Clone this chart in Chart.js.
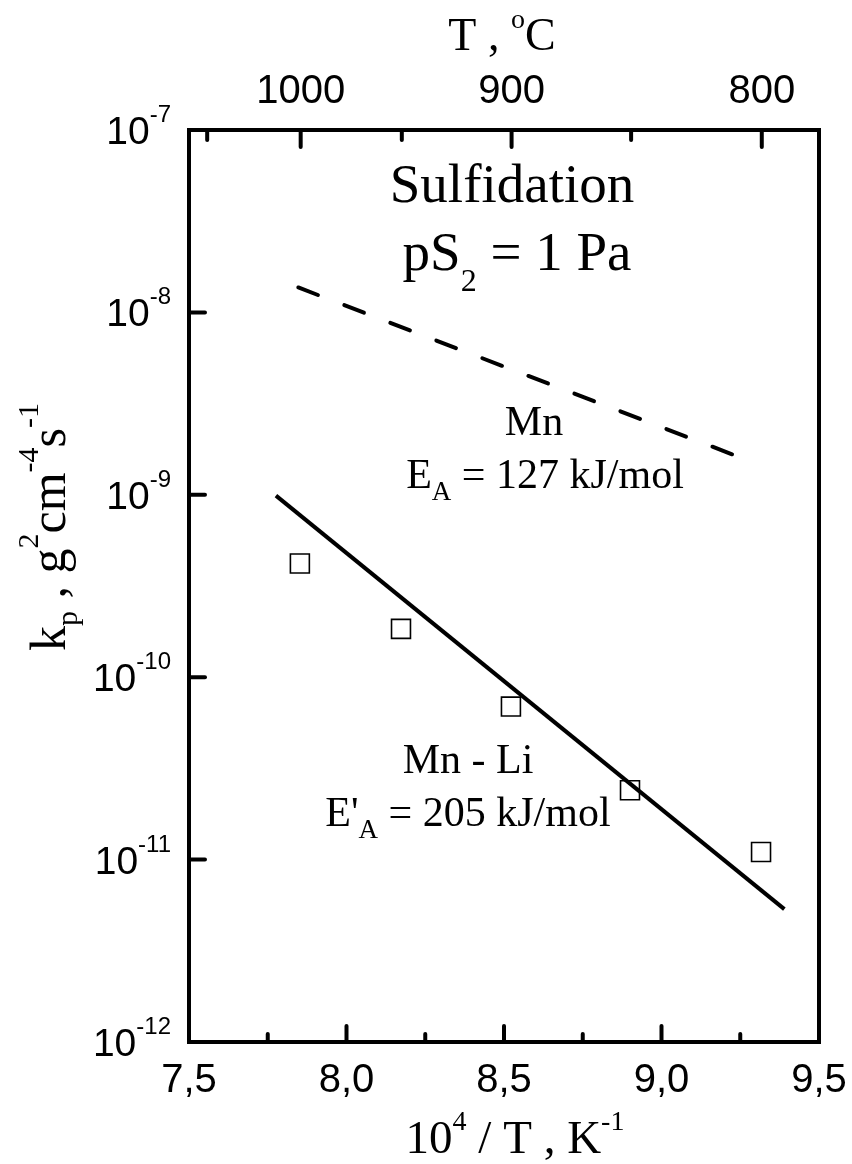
<!DOCTYPE html>
<html>
<head>
<meta charset="utf-8">
<script src="https://cdn.jsdelivr.net/npm/chart.js@4/dist/chart.umd.min.js"></script>
<style>
  html, body { margin: 0; padding: 0; background: #fff; }
  #wrap { width: 852px; height: 1164px; position: relative; }
</style>
</head>
<body>
<div id="wrap"><canvas id="c"></canvas></div>
<script>
// Axis ranges and ticks
const xRange = [7.5, 9.5];
const yRange = [1e-12, 1e-7];
const xMajorTicks = [7.5, 8.0, 8.5, 9.0, 9.5];
const xTickLabels = ['7,5', '8,0', '8,5', '9,0', '9,5'];
const xMinorTicks = [7.75, 8.25, 8.75, 9.25];
const tempMajorTicks = [1000, 900, 800];   // °C, top axis
const tempMinorTicks = [1050, 950, 850];
const yExponents = [-7, -8, -9, -10, -11, -12];

// Mn-Li measured parabolic rate constants
const mnLiX = [7.852, 8.173, 8.522, 8.900, 9.316];
const mnLiY = [4.2e-10, 1.84e-10, 6.9e-11, 2.4e-11, 1.1e-11];

// Arrhenius fit for Mn-Li (E'A = 205 kJ/mol)
const mnLiFitX = [7.776, 9.39];
const mnLiFitY = [9.9e-10, 5.35e-12];

// Arrhenius line for pure Mn (EA = 127 kJ/mol)
const mnFitX = [7.847, 9.239];
const mnFitY = [1.37e-8, 1.63e-9];

const SANS = "'Liberation Sans', Arial, sans-serif";
const SERIF = "'Liberation Serif', 'Times New Roman', serif";

const pts = (xs, ys) => xs.map((x, i) => ({ x: x, y: ys[i] }));

// Draws a run of text pieces with their own size and baseline shift
function rich(ctx, parts, x, y, align, family) {
  ctx.textAlign = 'left';
  ctx.textBaseline = 'alphabetic';
  let total = 0;
  const widths = parts.map(p => {
    ctx.font = p[1] + 'px ' + family;
    const w = ctx.measureText(p[0]).width;
    total += w;
    return w;
  });
  let sx = align === 'center' ? x - total / 2 : (align === 'right' ? x - total : x);
  parts.forEach((p, i) => {
    ctx.font = p[1] + 'px ' + family;
    ctx.fillText(p[0], sx, y + (p[2] || 0));
    sx += widths[i];
  });
}

const frameAndText = {
  id: 'frameAndText',
  afterDraw(chart) {
    const ctx = chart.ctx;
    const a = chart.chartArea;
    const xs = chart.scales.x;
    const ys = chart.scales.y;
    const tempToX = t => xs.getPixelForValue(1e4 / (t + 273.15));

    ctx.save();
    ctx.strokeStyle = '#000';
    ctx.fillStyle = '#000';
    ctx.lineWidth = 4;
    ctx.lineCap = 'round';

    const tick = (x1, y1, x2, y2) => {
      ctx.beginPath(); ctx.moveTo(x1, y1); ctx.lineTo(x2, y2); ctx.stroke();
    };
    // bottom axis ticks (inward)
    xMajorTicks.forEach(v => { const px = xs.getPixelForValue(v); tick(px, a.bottom, px, a.bottom - 16); });
    xMinorTicks.forEach(v => { const px = xs.getPixelForValue(v); tick(px, a.bottom, px, a.bottom - 8); });
    // top axis ticks (temperature)
    tempMajorTicks.forEach(t => { const px = tempToX(t); tick(px, a.top, px, a.top + 17); });
    tempMinorTicks.forEach(t => { const px = tempToX(t); tick(px, a.top, px, a.top + 10); });
    // left axis decade ticks
    yExponents.forEach(e => { const py = ys.getPixelForValue(Math.pow(10, e)); tick(a.left, py, a.left + 16, py); });

    // frame
    ctx.lineCap = 'butt';
    ctx.lineJoin = 'miter';
    ctx.strokeRect(a.left, a.top, a.right - a.left, a.bottom - a.top);

    // tick labels
    yExponents.forEach(e => {
      const py = ys.getPixelForValue(Math.pow(10, e));
      rich(ctx, [['10', 39, 0], [String(e), 24, -22]], 171, py + 14, 'right', SANS);
    });
    ctx.font = '40px ' + SANS;
    ctx.textAlign = 'center';
    xMajorTicks.forEach((v, i) => ctx.fillText(xTickLabels[i], xs.getPixelForValue(v), 1092));
    tempMajorTicks.forEach(t => ctx.fillText(String(t), tempToX(t), 103));

    // axis titles
    rich(ctx, [['10', 47, 0], ['4', 28, -23], [' / T , K', 47, 0], ['-1', 28, -23]], 515, 1153, 'center', SERIF);
    rich(ctx, [['T , ', 46, 0], ['o', 28, -22], ['C', 46, 0]], 502, 50, 'center', SERIF);
    ctx.save();
    ctx.translate(65, 527);
    ctx.rotate(-Math.PI / 2);
    rich(ctx, [['k', 50, 0], ['p', 30, 12], [' , g', 50, 0], ['2', 30, -27], ['cm', 50, 0],
               ['-4', 30, -27], ['s', 50, 0], ['-1', 30, -27]], 0, 0, 'center', SERIF);
    ctx.restore();

    // annotations
    rich(ctx, [['Sulfidation', 55, 0]], 512, 202, 'center', SERIF);
    rich(ctx, [['pS', 55, 0], ['2', 32, 21], [' = 1 Pa', 55, 0]], 517, 270, 'center', SERIF);
    rich(ctx, [['Mn', 42, 0]], 534, 435, 'center', SERIF);
    rich(ctx, [['E', 42, 0], ['A', 27, 12], [' = 127 kJ/mol', 42, 0]], 545, 488, 'center', SERIF);
    rich(ctx, [['Mn - Li', 42, 0]], 468, 773, 'center', SERIF);
    rich(ctx, [["E'", 42, 0], ['A', 27, 12], [' = 205 kJ/mol', 42, 0]], 468, 826, 'center', SERIF);

    ctx.restore();
  }
};

new Chart(document.getElementById('c'), {
  type: 'scatter',
  data: {
    datasets: [
      {
        label: 'Mn',
        data: pts(mnFitX, mnFitY),
        showLine: true,
        borderColor: '#000',
        borderWidth: 4,
        borderDash: [21, 28.3],
        borderCapStyle: 'round',
        pointRadius: 0,
        fill: false
      },
      {
        label: 'Mn - Li fit',
        data: pts(mnLiFitX, mnLiFitY),
        showLine: true,
        borderColor: '#000',
        borderWidth: 4,
        pointRadius: 0,
        fill: false
      },
      {
        label: 'Mn - Li',
        data: pts(mnLiX, mnLiY),
        showLine: false,
        pointStyle: 'rect',
        pointRadius: 13.4,
        borderColor: '#000',
        backgroundColor: 'rgba(0,0,0,0)',
        borderWidth: 1.6
      }
    ]
  },
  options: {
    responsive: true,
    maintainAspectRatio: false,
    animation: false,
    devicePixelRatio: 1,
    layout: { padding: { left: 189, right: 33, top: 130, bottom: 122 } },
    plugins: { legend: { display: false }, tooltip: { enabled: false } },
    scales: {
      x: { type: 'linear', min: xRange[0], max: xRange[1], display: false },
      y: { type: 'logarithmic', min: yRange[0], max: yRange[1], display: false }
    }
  },
  plugins: [frameAndText]
});
</script>
</body>
</html>
